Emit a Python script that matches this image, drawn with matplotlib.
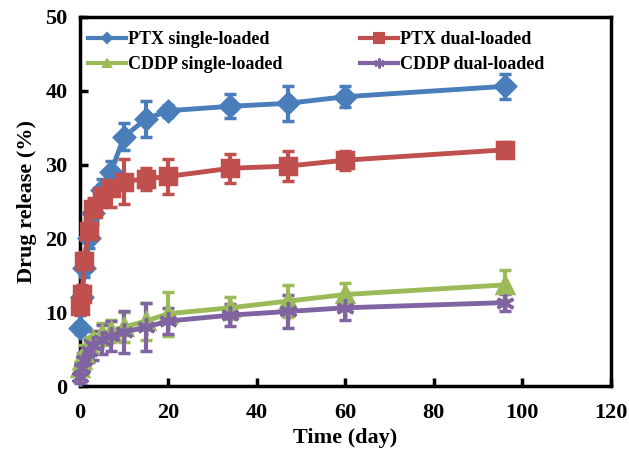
import matplotlib
matplotlib.use("Agg")
import matplotlib.pyplot as plt
from matplotlib.lines import Line2D

plt.rcParams['font.family'] = ['Liberation Serif', 'DejaVu Serif']
plt.rcParams['font.weight'] = 'bold'

time_days = [0, 0.5, 1, 2, 3, 5, 7, 10, 15, 20, 34, 47, 60, 96]

ptx_single = [7.8, 12.0, 16.0, 20.0, 23.5, 26.5, 29.0, 33.8, 36.2, 37.3, 37.9, 38.3, 39.2, 40.6]
ptx_single_err = [0.8, 1.0, 1.2, 1.3, 1.5, 1.5, 1.5, 1.8, 2.4, 0.8, 1.6, 2.4, 1.4, 1.7]

ptx_dual = [10.8, 12.5, 17.0, 21.0, 24.0, 25.8, 26.8, 27.7, 28.1, 28.4, 29.5, 29.8, 30.6, 32.0]
ptx_dual_err = [1.2, 1.2, 1.2, 1.5, 1.5, 1.5, 2.5, 3.0, 1.5, 2.4, 2.0, 2.0, 1.3, 1.0]

cddp_single = [2.5, 3.5, 4.5, 5.5, 6.2, 7.0, 7.5, 8.0, 8.8, 9.8, 10.6, 11.5, 12.4, 13.7]
cddp_single_err = [0.8, 1.0, 1.0, 1.2, 1.2, 1.5, 1.5, 2.0, 2.5, 3.0, 1.5, 2.2, 1.6, 2.0]

cddp_dual = [1.2, 2.5, 3.5, 4.7, 5.5, 6.3, 6.8, 7.3, 8.0, 8.8, 9.6, 10.1, 10.6, 11.3]
cddp_dual_err = [0.8, 1.0, 1.2, 1.5, 2.0, 2.0, 2.0, 2.8, 3.2, 1.8, 1.5, 2.2, 1.6, 1.2]

labels = ["PTX single-loaded", "PTX dual-loaded", "CDDP single-loaded", "CDDP dual-loaded"]
colors = ["#4A7EBB", "#C0504D", "#9BBB59", "#8064A2"]
markers = ["D", "s", "^", (6, 2, 0)]
msizes = [10, 12, 11, 13]

series = [(ptx_single, ptx_single_err), (ptx_dual, ptx_dual_err),
          (cddp_single, cddp_single_err), (cddp_dual, cddp_dual_err)]

fig = plt.figure(figsize=(6.29, 4.59), dpi=100)
ax = fig.add_axes([0.127, 0.159, 0.844, 0.804])

handles = []
for (vals, errs), lab, c, m, ms in zip(series, labels, colors, markers, msizes):
    line, caps, bars = ax.errorbar(time_days, vals, yerr=errs, color=c, marker=m, markersize=ms,
                                   markeredgecolor=c, markeredgewidth=2.5, linewidth=3.5,
                                   elinewidth=3, capsize=4, capthick=3, zorder=3)
    line.set_clip_on(False)
    for cp in caps:
        cp.set_clip_on(False)
    for b in bars:
        b.set_clip_on(False)
    handles.append(Line2D([0], [0], color=c, marker=m, markersize=ms * 0.55,
                          markeredgecolor=c, markeredgewidth=1.5, linewidth=3))

ax.set_xlim(0, 120)
ax.set_ylim(0, 50)
ax.set_xticks(range(0, 121, 20))
ax.set_yticks(range(0, 51, 10))
ax.tick_params(direction='in', length=6, width=2.5, labelsize=16)
ax.tick_params(axis='x', pad=12)
ax.tick_params(axis='y', pad=9)
for lbl in ax.get_xticklabels() + ax.get_yticklabels():
    lbl.set_fontweight('bold')
for sp in ax.spines.values():
    sp.set_linewidth(2.5)

ax.set_xlabel("Time (day)", fontsize=16, fontweight='bold', labelpad=4)
ax.set_ylabel("Drug release (%)", fontsize=16, fontweight='bold', labelpad=6)

order = [0, 2, 1, 3]
leg = ax.legend([handles[i] for i in order], [labels[i] for i in order], ncol=2,
                loc='upper left', bbox_to_anchor=(-0.015, 1.006), frameon=False,
                prop={'size': 13, 'weight': 'bold'}, handlelength=2.1,
                handletextpad=0.1, columnspacing=4.3, labelspacing=0.45)

fig.savefig("out.png", dpi=100)
